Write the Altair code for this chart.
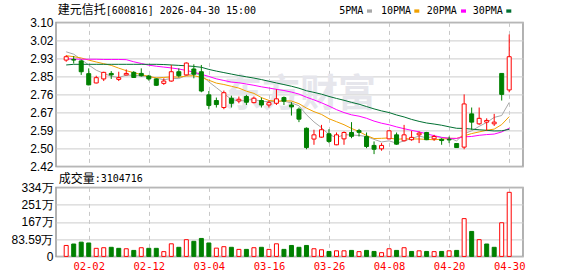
import json
import numpy as np
import pandas as pd
import altair as alt

# ---------------- data ----------------
dates = ["01-28", "01-29", "01-30", "02-02", "02-03", "02-04", "02-05", "02-06", "02-09", "02-10",
         "02-11", "02-12", "02-13", "02-24", "02-25", "02-26", "02-27", "03-02", "03-03", "03-04",
         "03-05", "03-06", "03-09", "03-10", "03-11", "03-12", "03-13", "03-16", "03-17", "03-18",
         "03-19", "03-20", "03-23", "03-24", "03-25", "03-26", "03-27", "03-30", "03-31", "04-01",
         "04-02", "04-03", "04-07", "04-08", "04-09", "04-10", "04-13", "04-14", "04-15", "04-16",
         "04-17", "04-20", "04-21", "04-22", "04-23", "04-24", "04-27", "04-28", "04-29", "04-30"]

open_ = [2.922, 2.925, 2.918, 2.858, 2.814, 2.833, 2.859, 2.831, 2.852, 2.864,
         2.859, 2.847, 2.833, 2.812, 2.823, 2.867, 2.852, 2.880, 2.867, 2.758,
         2.731, 2.698, 2.742, 2.729, 2.750, 2.721, 2.731, 2.710, 2.718, 2.745,
         2.710, 2.690, 2.600, 2.549, 2.558, 2.574, 2.522, 2.550, 2.580, 2.589,
         2.561, 2.519, 2.503, 2.550, 2.569, 2.541, 2.546, 2.569, 2.580, 2.550,
         2.548, 2.548, 2.528, 2.511, 2.668, 2.621, 2.629, 2.621, 2.859, 2.781]
high = [2.945, 2.941, 2.924, 2.883, 2.848, 2.867, 2.870, 2.867, 2.878, 2.870,
        2.883, 2.852, 2.836, 2.836, 2.899, 2.883, 2.911, 2.902, 2.899, 2.776,
        2.745, 2.778, 2.754, 2.750, 2.758, 2.750, 2.745, 2.731, 2.784, 2.750,
        2.723, 2.698, 2.604, 2.593, 2.616, 2.596, 2.580, 2.585, 2.629, 2.597,
        2.580, 2.538, 2.530, 2.590, 2.580, 2.616, 2.588, 2.585, 2.583, 2.569,
        2.553, 2.561, 2.530, 2.760, 2.698, 2.698, 2.647, 2.668, 2.859, 3.043]
low = [2.914, 2.906, 2.852, 2.803, 2.812, 2.823, 2.833, 2.823, 2.850, 2.838,
       2.844, 2.825, 2.800, 2.805, 2.820, 2.840, 2.850, 2.836, 2.770, 2.690,
       2.698, 2.690, 2.698, 2.718, 2.710, 2.718, 2.698, 2.698, 2.710, 2.710,
       2.660, 2.629, 2.501, 2.522, 2.556, 2.530, 2.520, 2.522, 2.553, 2.561,
       2.506, 2.478, 2.494, 2.548, 2.522, 2.538, 2.541, 2.530, 2.544, 2.541,
       2.522, 2.530, 2.507, 2.501, 2.593, 2.616, 2.588, 2.611, 2.731, 2.770]
close = [2.938, 2.922, 2.867, 2.805, 2.839, 2.864, 2.852, 2.839, 2.859, 2.840,
         2.848, 2.833, 2.803, 2.823, 2.867, 2.848, 2.908, 2.855, 2.776, 2.708,
         2.712, 2.768, 2.718, 2.737, 2.723, 2.742, 2.710, 2.721, 2.739, 2.728,
         2.701, 2.643, 2.509, 2.569, 2.593, 2.538, 2.569, 2.580, 2.562, 2.581,
         2.514, 2.501, 2.519, 2.588, 2.525, 2.569, 2.557, 2.577, 2.546, 2.561,
         2.542, 2.545, 2.509, 2.715, 2.629, 2.647, 2.637, 2.629, 2.760, 2.938]
# volume in 万 (10k shares)
volume = [53, 60, 69, 65, 39, 42, 44, 39, 37, 29,
          42, 39, 39, 23, 61, 44, 81, 73, 87, 65,
          40, 47, 44, 34, 34, 42, 44, 34, 61, 34,
          53, 44, 53, 37, 32, 24, 27, 27, 29, 23,
          29, 24, 18, 37, 29, 42, 24, 27, 24, 23,
          24, 27, 29, 183, 121, 81, 60, 44, 163, 310.4716]

# moving-average values at the start of the window (need earlier days)
ma5_head = [2.961, 2.950, 2.925, 2.899]
ma10_head = [2.943, 2.938, 2.932, 2.922, 2.913, 2.905, 2.897, 2.884, 2.872]
ma20_head = [2.927, 2.927, 2.926, 2.926, 2.926, 2.925, 2.925, 2.925, 2.924, 2.914,
             2.906, 2.898, 2.893, 2.889, 2.885, 2.880, 2.873, 2.865, 2.855]
ma30_head = [2.899, 2.902, 2.902, 2.902, 2.902, 2.902, 2.902, 2.902, 2.902, 2.902,
             2.902, 2.902, 2.902, 2.901, 2.899, 2.897, 2.895, 2.892, 2.888, 2.878,
             2.870, 2.863, 2.856, 2.849, 2.843, 2.837, 2.830, 2.822, 2.814]

tick_dates = ["02-02", "02-12", "03-04", "03-16", "03-26", "04-08", "04-20", "04-30"]
price_ticks = [2.42, 2.505, 2.59, 2.675, 2.76, 2.845, 2.93, 3.015, 3.10]
price_labels = ["2.42", "2.50", "2.59", "2.67", "2.76", "2.85", "2.93", "3.02", "3.10"]
vol_ticks = [0, 83.59, 167.18, 250.77, 334.36]
vol_labels = ["0", "83.59万", "167万", "251万", "334万"]

ma_names = ["5PMA", "10PMA", "20PMA", "30PMA"]
ma_colors = ["#a8a8a8", "#f0a000", "#ff00ff", "#006f32"]

title_cn = "建元信托"
title_rest = "[600816] 2026-04-30 15:00"
vol_title_cn = "成交量"
vol_title_rest = ":3104716"

# ---------------- derived tables ----------------
RED = "#ff0000"
GREEN = "#008000"
n = len(dates)
df = pd.DataFrame({"i": np.arange(n), "date": dates, "open": open_, "high": high,
                   "low": low, "close": close, "vol": volume})
cs = pd.Series(close, dtype=float)


def moving(period, head):
    s = cs.rolling(period).mean()
    s.iloc[:len(head)] = head
    return s


df["5PMA"] = moving(5, ma5_head)
df["10PMA"] = moving(10, ma10_head)
df["20PMA"] = moving(20, ma20_head)
df["30PMA"] = moving(30, ma30_head)

up = df["close"] >= df["open"]
df["stroke"] = np.where(up, RED, GREEN)
df["fill"] = np.where(up, "#ffffff", GREEN)
vup = (df["close"] >= df["close"].shift(1))
vup.iloc[0] = True
df["vstroke"] = np.where(vup, RED, GREEN)
df["vfill"] = np.where(vup, "#ffffff", GREEN)

ma_long = df.melt(id_vars=["i"], value_vars=ma_names, var_name="ma", value_name="value")

tick_idx = [dates.index(d) for d in tick_dates]

# ---------------- encodings ----------------
W = 467
HP = 144
HV = 69
xscale = alt.Scale(domain=[-0.69, 60.17], nice=False, zero=False)

x_price = alt.X("i:Q", scale=xscale,
                axis=alt.Axis(values=tick_idx, labels=False, ticks=False, domain=False,
                              grid=True, gridDash=[4, 4], gridColor="#c8c8c8", title=None))
x_vol = alt.X("i:Q", scale=xscale,
              axis=alt.Axis(values=tick_idx, ticks=False, domain=False, grid=True,
                            gridDash=[4, 4], gridColor="#c8c8c8", title=None,
                            labelExpr=json.dumps(dates, ensure_ascii=False) + "[round(datum.value)]",
                            labelColor=RED, labelFont="DejaVu Sans Mono", labelFontSize=10.5,
                            labelPadding=5))

pscale = alt.Scale(domain=[2.42, 3.10], nice=False, zero=False)
paxis = alt.Axis(values=price_ticks, grid=True, gridColor="#cccccc", ticks=False, domain=False,
                 title=None, labelPadding=3,
                 labelExpr=json.dumps(price_labels) + "[round((datum.value - 2.42) / 0.085)]")

vscale = alt.Scale(domain=[0, 334.36], nice=False, zero=True)
vaxis = alt.Axis(values=vol_ticks, grid=True, gridColor="#cccccc", ticks=False, domain=False,
                 title=None, labelPadding=3,
                 labelExpr=json.dumps(vol_labels, ensure_ascii=False) + "[round(datum.value / 83.59)]")

base = alt.Chart(df)

watermark = alt.Chart(df.head(1)).mark_text(
    text="东方财富", font="Noto Sans CJK SC", fontSize=38, fontWeight="bold",
    color="#e6e6ec", align="center", baseline="middle"
).encode(x=alt.value(244), y=alt.value(73))

lines = alt.Chart(ma_long).mark_line(strokeWidth=1).encode(
    x=x_price,
    y=alt.Y("value:Q", scale=pscale, axis=paxis),
    color=alt.Color("ma:N", scale=alt.Scale(domain=ma_names, range=ma_colors), legend=None),
    detail="ma:N",
)

wicks = base.mark_rule(strokeWidth=1).encode(
    x=x_price,
    y=alt.Y("low:Q", scale=pscale, axis=paxis),
    y2="high:Q",
    color=alt.Color("stroke:N", scale=None),
)

bodies = base.mark_bar(size=4, strokeWidth=1, orient="vertical").encode(
    x=x_price,
    y=alt.Y("open:Q", scale=pscale, axis=paxis),
    y2="close:Q",
    fill=alt.Fill("fill:N", scale=None),
    stroke=alt.Stroke("stroke:N", scale=None),
)

one = pd.DataFrame({"a": [0]})
header = [
    alt.Chart(one).mark_text(text=title_cn, font="Noto Sans CJK SC", fontSize=12, align="left",
                             baseline="middle", color="#000").encode(x=alt.value(1.7), y=alt.value(-12.3)),
    alt.Chart(one).mark_text(text=title_rest, font="DejaVu Sans Mono", fontSize=10, align="left",
                             baseline="middle", color="#000").encode(x=alt.value(49.7), y=alt.value(-11.8)),
]
leg_text_x = [283.3, 325.0, 370.7, 416.7]
leg_sq_x = [311.0, 358.3, 405.0, 450.3]
for name, col, tx, sx in zip(ma_names, ma_colors, leg_text_x, leg_sq_x):
    header.append(alt.Chart(one).mark_text(text=name, font="DejaVu Sans Mono", fontSize=10,
                                           align="left", baseline="middle", color="#000")
                  .encode(x=alt.value(tx), y=alt.value(-11.6)))
    header.append(alt.Chart(one).mark_rect(color=col)
                  .encode(x=alt.value(sx), x2=alt.value(sx + 5), y=alt.value(-13), y2=alt.value(-9.7)))

price = alt.layer(watermark, lines, wicks, bodies, *header).properties(width=W, height=HP)

vbars = base.mark_bar(size=4, strokeWidth=1, orient="vertical").encode(
    x=x_vol,
    y=alt.Y("vol:Q", scale=vscale, axis=vaxis),
    fill=alt.Fill("vfill:N", scale=None),
    stroke=alt.Stroke("vstroke:N", scale=None),
)
vtitle = [
    alt.Chart(one).mark_text(text=vol_title_cn, font="Noto Sans CJK SC", fontSize=12, align="left",
                             baseline="middle", color="#000").encode(x=alt.value(2.7), y=alt.value(-8.6)),
    alt.Chart(one).mark_text(text=vol_title_rest, font="DejaVu Sans Mono", fontSize=10, align="left",
                             baseline="middle", color="#000").encode(x=alt.value(38.7), y=alt.value(-8.2)),
]
vol = alt.layer(vbars, *vtitle).properties(width=W, height=HV)

chart = alt.vconcat(price, vol, spacing=21, bounds="flush").properties(
    padding={"left": 10, "top": 2.4, "right": 0, "bottom": 0},
    background="white",
).configure_view(stroke="#999999", strokeWidth=1.5).configure_axis(
    labelFont="Liberation Sans", labelFontSize=12, labelColor="#000000"
).configure_concat(spacing=21)

chart.save("out.html", embed_options={"renderer": "svg", "actions": False})
